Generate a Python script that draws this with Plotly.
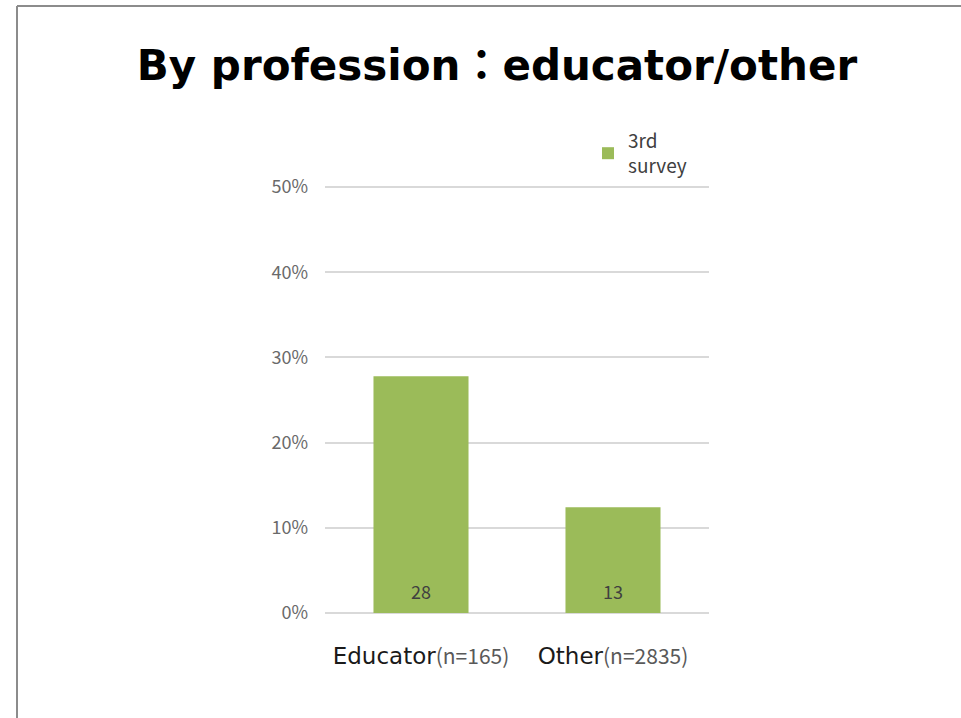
import plotly.graph_objects as go

categories = ["Educator", "Other"]
sample_sizes = ["n=165", "n=2835"]
values = [27.8, 12.4]
value_labels = ["28", "13"]
series_name = "3rd<br>survey"
y_ticks = [0, 10, 20, 30, 40, 50]
y_tick_labels = ["0%", "10%", "20%", "30%", "40%", "50%"]

W, H = 961, 718
L, R, T, B = 325, 709, 180, 613
PX_PER_PCT = (613 - 187) / 50.0
Y_MAX = (B - T) / PX_PER_PCT
CJK = "Noto Sans CJK JP"

tick_text = [
    f'<span style="font-family:DejaVu Sans;font-size:23px;color:#1a1a1a">{c}</span>'
    f'<span style="font-family:Noto Sans CJK JP;font-size:21px;color:#595959">({n})</span>'
    for c, n in zip(categories, sample_sizes)
]

fig = go.Figure()
fig.add_trace(go.Bar(
    x=categories, y=values, name=series_name,
    marker=dict(color="#9bbb59", line=dict(width=0)),
    showlegend=True, hoverinfo="skip",
))

for c, lab in zip(categories, value_labels):
    fig.add_annotation(
        x=c, y=0, xref="x", yref="y", text=lab, showarrow=False,
        yanchor="middle", yshift=22,
        font=dict(size=18, color="#404040", family=CJK),
    )

def px(x):
    return (x - L) / (R - L)

def py(y):
    return (B - y) / (B - T)

fig.update_layout(
    width=W, height=H,
    margin=dict(l=L, r=W - R, t=T, b=H - B, pad=0),
    paper_bgcolor="white", plot_bgcolor="white",
    bargap=0.505,
    title=dict(
        text="<b>By profession：educator/other</b>",
        x=497 / W, xanchor="center", xref="container",
        y=1 - 65 / H, yanchor="middle", yref="container",
        font=dict(size=42, color="#000000", family="DejaVu Sans, Noto Sans CJK JP"),
    ),
    font=dict(family=CJK),
    legend=dict(
        x=px(588), y=py(122), xanchor="left", yanchor="top",
        font=dict(size=19, color="#404040", family=CJK),
        bgcolor="rgba(0,0,0,0)", itemwidth=30, tracegroupgap=0,
    ),
    xaxis=dict(
        tickmode="array", tickvals=categories, ticktext=tick_text,
        showgrid=False, showline=False, ticks="", ticklabelstandoff=38,
        fixedrange=True,
    ),
    yaxis=dict(
        range=[0, Y_MAX], tickmode="array", tickvals=y_ticks, ticktext=y_tick_labels,
        showgrid=True, gridcolor="#d9d9d9", gridwidth=1.5,
        zeroline=True, zerolinecolor="#d9d9d9", zerolinewidth=1.5,
        showline=False, ticks="", ticklabelstandoff=16,
        tickfont=dict(size=18, color="#6a6a6a", family=CJK),
        fixedrange=True,
    ),
    shapes=[
        dict(type="line", xref="paper", yref="paper",
             x0=px(17), x1=px(961), y0=py(6), y1=py(6),
             line=dict(color="#8c8c8c", width=2)),
        dict(type="line", xref="paper", yref="paper",
             x0=px(17), x1=px(17), y0=py(6), y1=py(718),
             line=dict(color="#8c8c8c", width=2)),
    ],
)

fig.write_html(
    "out.html",
    config={"displayModeBar": False},
    post_script="document.body.style.margin='0';document.body.style.overflow='hidden';",
)
